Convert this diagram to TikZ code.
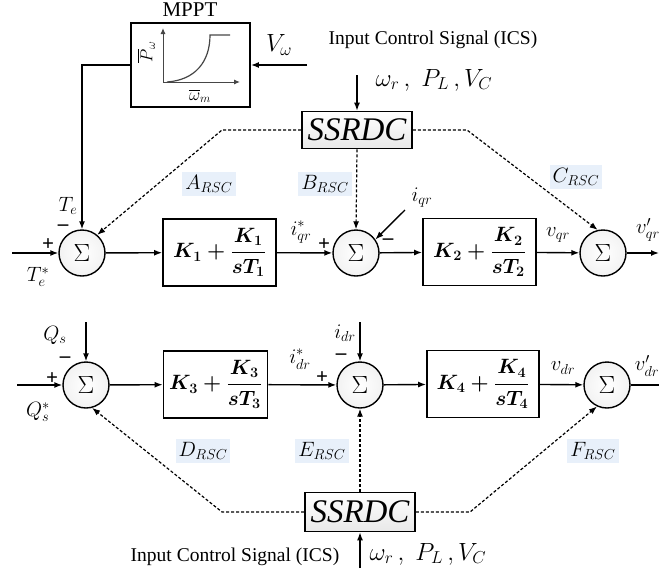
\documentclass[tikz,border=0pt]{standalone}
\usepackage{fontspec}
\setmainfont{Liberation Serif}
\newfontfamily\sumfont{Liberation Sans}
\usepackage{amsmath}
\usetikzlibrary{arrows.meta}
\definecolor{rscbg}{RGB}{232,240,250}

\begin{document}
\begin{tikzpicture}[x=1pt,y=-1pt,line width=1.4pt,>={Latex[length=8pt,width=6pt]},
  sumnode/.style={circle,draw,minimum size=46pt,inner sep=0pt,inner color=white,outer color=gray!10,
    font=\sumfont\fontsize{30}{30}\selectfont},
  gainbox/.style={draw,line width=1.8pt,minimum height=67pt,inner sep=0pt,
    font=\boldmath\fontsize{20.5}{22}\selectfont},
  ssrdcbox/.style={draw,line width=1.6pt,minimum width=110pt,minimum height=37pt,inner sep=0pt,
    top color=white,bottom color=gray!18,font=\itshape\fontsize{33}{33}\selectfont},
  rsc/.style={fill=rscbg,inner sep=3pt,font=\fontsize{20}{20}\selectfont},
  sig/.style={inner sep=0pt,font=\fontsize{22}{22}\selectfont},
  sgn/.style={inner sep=0pt,font=\bfseries\fontsize{21}{21}\selectfont},
  ics/.style={inner sep=0pt,font=\fontsize{19.5}{20}\selectfont},
  link/.style={->,dash pattern=on 3pt off 2pt,line width=1.2pt}]
  \useasboundingbox (0,0) rectangle (659,579);

  % MPPT block with its curve
  \node[draw,line width=1.8pt,minimum width=119pt,minimum height=84pt] (mppt) at (190.5,65) {};
  \node[inner sep=0pt,font=\fontsize{21}{21}\selectfont] (mpptlbl) at (190,10) {MPPT};
  \coordinate (porig) at (163,82);
  \draw[->,gray!55!black,line width=1pt,>={Latex[length=6pt,width=5pt]}] (porig) -- ++(0,-54);
  \draw[->,gray!55!black,line width=1pt,>={Latex[length=6pt,width=5pt]}] (porig) -- ++(77,0);
  \draw[gray!55!black,line width=1.2pt] (167,82) .. controls (195,80) and (210,62) .. (210,35) -- (230,35);
  \node[inner sep=0pt,rotate=90,font=\fontsize{17}{17}\selectfont] (pw) at (146,52) {$\overline{P}_\omega$};
  \node[inner sep=0pt,font=\fontsize{17}{17}\selectfont] (wm) at (200,96) {$\overline{\omega}_m$};
  \coordinate (vwin) at (307,65);
  \draw[->] (vwin) -- (mppt.east);
  \node[inner sep=0pt,font=\fontsize{27}{27}\selectfont] (vw) at (279,45) {$V_\omega$};

  % upper loop (q axis)
  \node[sumnode] (sum1) at (82,253) {$\Sigma$};
  \node[gainbox,minimum width=113pt] (blk1) at (219.5,252.5) {$K_1+\dfrac{K_1}{sT_1}$};
  \node[sumnode] (sum2) at (356,253) {$\Sigma$};
  \node[gainbox,minimum width=113pt] (blk2) at (479.5,252) {$K_2+\dfrac{K_2}{sT_2}$};
  \node[sumnode] (sum3) at (603,253) {$\Sigma$};
  \coordinate (tein) at (12,253);
  \coordinate (vqout) at (659,253);
  \coordinate (iqrin) at (405,210);
  \draw[->] (tein) -- (sum1);
  \draw[->] (sum1) -- (blk1);
  \draw[->] (blk1) -- (sum2);
  \draw[->] (sum2) -- (blk2);
  \draw[->] (blk2) -- (sum3);
  \draw[->] (sum3) -- (vqout);
  \draw[->] (iqrin) -- (sum2.35);
  \draw[->] (mppt.west) -| (sum1.north);

  \node[sig] (te) at (68,206) {$T_e$};
  \node[sgn] (m1) at (63,228) {--};
  \node[sgn] (p1) at (48,245) {+};
  \node[sig] (tes) at (38,277) {$T_e^{*}$};
  \node[sig] (iqrs) at (301,232) {$i^{*}_{qr}$};
  \node[sgn] (p2) at (324,245) {+};
  \node[sig] (iqr) at (422,198) {$i_{qr}$};
  \node[sgn] (m2) at (388,242) {--};
  \node[sig] (vqr) at (558,235) {$v_{qr}$};
  \node[sig] (vqrp) at (648,230) {$v'_{qr}$};

  % upper SSRDC
  \node[ssrdcbox] (ssA) at (357,130) {SSRDC};
  \node[ics] (icsA) at (433,40) {Input Control Signal (ICS)};
  \node[inner sep=0pt,font=\fontsize{27}{27}\selectfont] (sigA) at (434,80) {$\omega_r\,,\;P_L\,,V_C$};
  \coordinate (sAin) at (357,75);
  \draw[->] (sAin) -- (ssA.north);
  \coordinate (kneeA) at (222,130);
  \coordinate (kneeC) at (467,130);
  \draw[link] (ssA.west) -- (kneeA) -- (sum1.50);
  \draw[link] (ssA.south) -- (sum2.north);
  \draw[link] (ssA.east) -- (kneeC) -- (sum3.103);
  \node[rsc] (arsc) at (209,184) {$A_{RSC}$};
  \node[rsc] (brsc) at (325,184) {$B_{RSC}$};
  \node[rsc] (crsc) at (576,177) {$C_{RSC}$};

  % lower loop (d axis)
  \node[sumnode] (sum4) at (86,385) {$\Sigma$};
  \node[gainbox,minimum width=104pt] (blk3) at (215.5,384.5) {$K_3+\dfrac{K_3}{sT_3}$};
  \node[sumnode] (sum5) at (360,385) {$\Sigma$};
  \node[gainbox,minimum width=112pt] (blk4) at (483,384) {$K_4+\dfrac{K_4}{sT_4}$};
  \node[sumnode] (sum6) at (607,385) {$\Sigma$};
  \coordinate (qsin) at (17,385);
  \coordinate (vdout) at (659,385);
  \coordinate (qsfb) at (86,322);
  \coordinate (idrin) at (360,322);
  \draw[->] (qsin) -- (sum4);
  \draw[->] (sum4) -- (blk3);
  \draw[->] (blk3) -- (sum5);
  \draw[->] (sum5) -- (blk4);
  \draw[->] (blk4) -- (sum6);
  \draw (sum6) -- (vdout);
  \draw[->] (qsfb) -- (sum4.north);
  \draw[->] (idrin) -- (sum5.north);

  \node[sig] (qs) at (55,335) {$Q_s$};
  \node[sgn] (m4) at (65,360) {--};
  \node[sgn] (p4) at (52,379) {+};
  \node[sig] (qss) at (38,412) {$Q_s^{*}$};
  \node[sig] (idrs) at (300,359) {$i^{*}_{dr}$};
  \node[sgn] (p5) at (322,378) {+};
  \node[sig] (idr) at (345,333) {$i_{dr}$};
  \node[sgn] (m5) at (341,357) {--};
  \node[sig] (vdr) at (563,368) {$v_{dr}$};
  \node[sig] (vdrp) at (647,366) {$v'_{dr}$};

  % lower SSRDC
  \node[ssrdcbox,minimum height=39pt] (ssB) at (360,512) {SSRDC};
  \node[ics] (icsB) at (235,557) {Input Control Signal (ICS)};
  \node[inner sep=0pt,font=\fontsize{27}{27}\selectfont] (sigB) at (428,554) {$\omega_r\,,\;P_L\,,V_C$};
  \coordinate (sBin) at (360,568);
  \draw[->] (sBin) -- (ssB.south);
  \coordinate (kneeD) at (222,512);
  \coordinate (kneeF) at (470,512);
  \draw[link] (ssB.west) -- (kneeD) -- (sum4.-75);
  \draw[link] (ssB.north) -- (sum5.south);
  \draw[link] (ssB.east) -- (kneeF) -- (sum6.-115);
  \node[rsc] (drsc) at (203,451) {$D_{RSC}$};
  \node[rsc] (ersc) at (322,451) {$E_{RSC}$};
  \node[rsc] (frsc) at (593,451) {$F_{RSC}$};
\end{tikzpicture}
\end{document}
